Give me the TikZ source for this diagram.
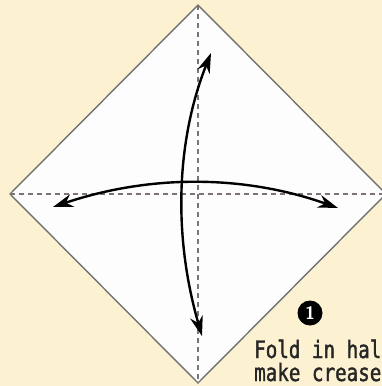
\documentclass[tikz,border=0pt]{standalone}
\usepackage{fontspec}
\newfontfamily\labelfont{DejaVu Sans Mono}[FakeBold=1.5,FakeStretch=0.8]
\usetikzlibrary{arrows.meta}
\definecolor{bgcream}{RGB}{252,242,210}
\definecolor{paperwhite}{RGB}{253,253,253}
\definecolor{edgegray}{RGB}{115,115,115}
\definecolor{creasegray}{RGB}{125,115,115}
\tikzset{
  paper/.style={fill=paperwhite, draw=edgegray, line width=1.4pt, line join=miter},
  crease/.style={draw=creasegray, line width=1.2pt, dash pattern=on 5pt off 4pt},
  foldarrow/.style={draw=black, line width=2.4pt, {Stealth[length=20pt,width=13pt]}-{Stealth[length=20pt,width=13pt]}},
  stepnum/.style={circle, fill=black, text=white, inner sep=0pt, minimum size=25pt, font=\sffamily\bfseries\fontsize{18}{18}\selectfont},
  caption/.style={anchor=base west, inner sep=0pt, font=\labelfont\fontsize{24}{24}\selectfont, text=black!85}
}
\begin{document}
\begin{tikzpicture}[x=1pt,y=-1pt]
\useasboundingbox (0,0) rectangle (382,386);
\clip (0,0) rectangle (382,386);
\fill[bgcream] (0,0) rectangle (382,386);
\coordinate (T) at (198,5);
\coordinate (L) at (10,194);
\coordinate (R) at (386,194);
\coordinate (B) at (198,383);
\draw[paper] (T) -- (R) -- (B) -- (L) -- cycle;
\draw[crease] (T) -- (B);
\draw[crease] (L) -- (R);
\coordinate (vtop) at (211,53);
\coordinate (vbot) at (202,336);
\coordinate (hl) at (53,207);
\coordinate (hr) at (338,208);
\draw[foldarrow] (vbot) .. controls (173,236) and (176,141) .. (vtop);
\draw[foldarrow] (hl) .. controls (151,174) and (245,175) .. (hr);
\node[stepnum] (num) at (310,313) {1};
\node[caption] (line1) at (254,358) {Fold in hal};
\node[caption] (line2) at (254,381) {make crease};
\end{tikzpicture}
\end{document}
